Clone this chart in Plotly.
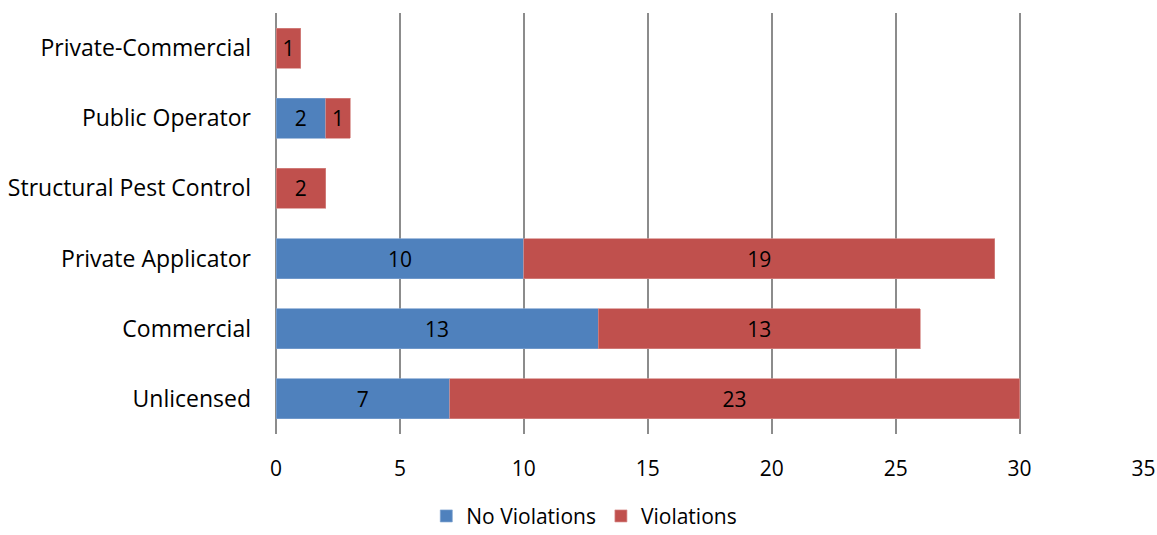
import plotly.graph_objects as go

categories = ["Unlicensed", "Commercial", "Private Applicator", "Structural Pest Control", "Public Operator", "Private-Commercial"]
no_violations = [7, 13, 10, 0, 2, 0]
violations = [23, 13, 19, 2, 1, 1]
x_ticks = [0, 5, 10, 15, 20, 25, 30, 35]

FONT = "Open Sans"

def labels(vals):
    return [str(v) if v else "" for v in vals]

fig = go.Figure()
fig.add_trace(go.Bar(
    y=categories, x=no_violations, orientation="h", name="No Violations",
    marker=dict(color="#4F81BD", line=dict(color="#7FA3D0", width=0.7)),
    text=labels(no_violations), textposition="inside", insidetextanchor="middle",
    constraintext="none", textfont=dict(color="black", size=21, family=FONT),
    hoverinfo="skip",
))
fig.add_trace(go.Bar(
    y=categories, x=violations, orientation="h", name="Violations",
    marker=dict(color="#C0504D", line=dict(color="#D58A88", width=0.7)),
    text=labels(violations), textposition="inside", insidetextanchor="middle",
    constraintext="none", textfont=dict(color="black", size=21, family=FONT),
    hoverinfo="skip",
))

fig.update_layout(
    barmode="stack",
    bargap=0.43,
    width=1157, height=535,
    margin=dict(l=276, r=13, t=13, b=101, autoexpand=False),
    plot_bgcolor="white", paper_bgcolor="white",
    font=dict(family=FONT, size=20, color="black"),
    showlegend=True,
    legend=dict(orientation="h", xref="container", x=0.505, xanchor="center",
                yref="container", y=0.035, yanchor="middle",
                font=dict(size=21, family=FONT), traceorder="normal"),
    xaxis=dict(range=[0, 35.02], tickvals=x_ticks, showgrid=True, gridcolor="#8C8C8C",
               gridwidth=1.5, zeroline=True, zerolinecolor="#8C8C8C", zerolinewidth=1.5,
               showline=False, ticks="", tickfont=dict(size=21, family=FONT),
               automargin=False, ticklabelstandoff=20),
    yaxis=dict(showgrid=False, ticks="", showline=False, automargin=False,
               ticklabelstandoff=24, tickfont=dict(size=23, family=FONT)),
)

fig.write_html("out.html")
